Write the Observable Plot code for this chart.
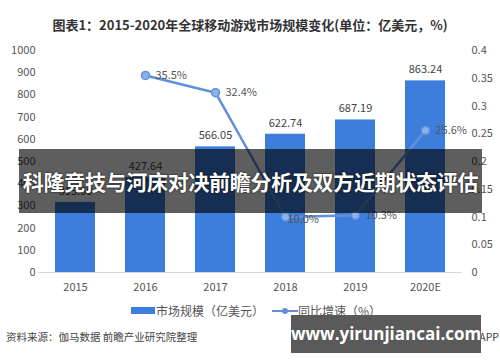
<!DOCTYPE html>
<html><head><meta charset="utf-8">
<script src="https://cdn.jsdelivr.net/npm/d3@7"></script>
<script src="https://cdn.jsdelivr.net/npm/@observablehq/plot@0.6"></script>
<style>
body{margin:0;background:#fff;font-family:"Noto Sans CJK SC","Noto Sans",sans-serif;}
#wrap{position:relative;width:500px;height:362px;overflow:hidden;background:#fff;}
#chart{position:absolute;left:0;top:0;}
.abs{position:absolute;white-space:nowrap;}
</style></head>
<body><div id="wrap"><div id="chart"></div></div>
<script>
const years = ["2015","2016","2017","2018","2019","2020E"];
const marketSize = [315.6, 427.64, 566.05, 622.74, 687.19, 863.24];
const rateYears = ["2016","2017","2018","2019","2020E"];
const growthRate = [0.355, 0.324, 0.100, 0.103, 0.256];
const leftTicks = [0,100,200,300,400,500,600,700,800,900,1000];
const rightTicks = [0,0.05,0.1,0.15,0.2,0.25,0.3,0.35,0.4];
const title = "图表1：2015-2020年全球移动游戏市场规模变化(单位：亿美元，%)";
const legendBar = "市场规模（亿美元）";
const legendLine = "同比增速（%）";
const source = "资料来源：伽马数据 前瞻产业研究院整理";
const sourceRight = "前瞻经济学人APP";
const banner = "科隆竞技与河床对决前瞻分析及双方近期状态评估";
const site = "www.yirunjiancai.com";

const scaleR = 1000 / 0.4;
const bars = years.map((y,i)=>({year:y, size:marketSize[i]}));
const rates = rateYears.map((y,i)=>({year:y, rate:growthRate[i]}));
const barColor = "#3d7edc", lineColor = "#5f90dc";

const plot = Plot.plot({
  width:500, height:362,
  marginTop:50, marginBottom:90, marginLeft:38, marginRight:38,
  style:{color:"#555", fontFamily:'"Noto Sans CJK SC","Noto Sans",sans-serif', background:"transparent"},
  x:{domain:years, paddingInner:0.434, paddingOuter:0.217, label:null},
  y:{domain:[0,1000], label:null},
  marks:[
    Plot.axisY({ticks:leftTicks, tickFormat:d=>String(d), tickSize:0, tickPadding:3, fontSize:11, label:null}),
    Plot.axisY({anchor:"right", ticks:rightTicks.map(t=>t*scaleR), tickFormat:d=>String(+(d/scaleR).toFixed(2)), tickSize:0, tickPadding:9, textAnchor:"start", fontSize:11, label:null}),
    Plot.axisX({tickSize:0, tickPadding:11, fontSize:11, label:null}),
    Plot.barY(bars, {x:"year", y:"size", fill:barColor}),
    Plot.ruleY([0], {stroke:"#d6d6d6"}),
    Plot.text(bars, {x:"year", y:"size", text:d=>d.size.toFixed(2), dy:-11, fontSize:11, fill:"#444"}),
    Plot.line(rates, {x:"year", y:d=>d.rate*scaleR, stroke:lineColor, strokeWidth:2.5}),
    Plot.dot(rates, {x:"year", y:d=>d.rate*scaleR, r:4, fill:"#8db2ea", stroke:lineColor, strokeWidth:1.5}),
    Plot.text(rates.filter(d=>d.year!=="2018"), {x:"year", y:d=>d.rate*scaleR, text:d=>(d.rate*100).toFixed(1)+"%", dx:10, textAnchor:"start", fontSize:11, fill:"#555"}),
    Plot.text(rates.filter(d=>d.year==="2018"), {x:"year", y:d=>d.rate*scaleR, text:d=>(d.rate*100).toFixed(1)+"%", dx:2, dy:2, textAnchor:"start", fontSize:11, fill:"#555"})
  ]
});
document.getElementById("chart").appendChild(plot);

const wrap = document.getElementById("wrap");
function add(html, css){const d=document.createElement("div");d.className="abs";d.innerHTML=html;Object.assign(d.style,css);wrap.appendChild(d);return d;}
add(title,{left:"0",width:"500px",top:"15px",textAlign:"center",fontSize:"13px",fontWeight:"bold",color:"#333",lineHeight:"20px"});
// legend
add("",{left:"131px",top:"307px",width:"24px",height:"7px",background:barColor});
add(legendBar,{left:"156px",top:"302px",fontSize:"12px",color:"#555",lineHeight:"18px"});
add("",{left:"272px",top:"310px",width:"26px",height:"2px",background:lineColor});
add("",{left:"282px",top:"308px",width:"6px",height:"6px",borderRadius:"3px",background:lineColor});
add(legendLine,{left:"298px",top:"302px",fontSize:"12px",color:"#555",lineHeight:"18px"});
// source
add(source,{left:"6px",top:"329px",fontSize:"10.5px",color:"#444",lineHeight:"16px"});
add(sourceRight,{right:"1px",top:"329px",fontSize:"10.5px",color:"#444",lineHeight:"16px"});
// banner overlay
add(banner,{left:"19px",top:"149px",width:"463px",height:"64px",background:"rgba(0,0,0,0.63)",color:"#fff",fontSize:"21px",fontWeight:"bold",lineHeight:"64px",textAlign:"center",letterSpacing:"-0.3px",textShadow:"0 0 2px #000"});
// site watermark
add(site,{left:"291px",top:"315px",width:"190px",height:"38px",background:"#5a5a5a",color:"#fff",fontSize:"17px",fontWeight:"bold",lineHeight:"38px",textAlign:"center",fontFamily:'"Open Sans","DejaVu Sans",sans-serif'});
</script></body></html>
